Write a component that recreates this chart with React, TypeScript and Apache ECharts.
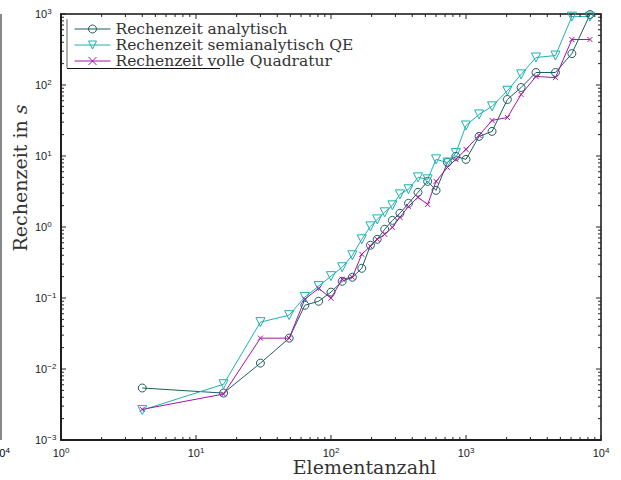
import React, { useEffect, useRef } from "react";
import * as echarts from "echarts";

// Element counts (x) and computation times in seconds (y)
const elementCount = [4, 16, 30, 49, 64, 81, 100, 121, 144, 169, 196, 220, 250, 285, 324, 375, 441, 520, 600, 729, 841, 1000, 1250, 1560, 2025, 2560, 3300, 4600, 6084, 8281];
const timeAnalytic = [0.0054, 0.00458, 0.0121, 0.0272, 0.079, 0.09, 0.121, 0.172, 0.196, 0.262, 0.553, 0.671, 0.929, 1.24, 1.56, 2.15, 3.08, 4.39, 3.28, 8.13, 9.87, 8.96, 18.9, 22.2, 62.5, 92.2, 150, 150, 277, 982];
const timeSemiQE = [0.00264, 0.0061, 0.0457, 0.0573, 0.103, 0.147, 0.203, 0.271, 0.4, 0.671, 1.02, 1.28, 1.61, 2.02, 2.88, 3.4, 5.0, 4.69, 8.96, 8.1, 11.0, 26.9, 38.5, 50, 83, 141, 244, 260, 919, 919];
const timeFullQuad = [0.0027, 0.00444, 0.0272, 0.0272, 0.0962, 0.137, 0.0993, 0.184, 0.196, 0.413, 0.535, 0.671, 0.789, 0.99, 1.37, 1.95, 2.62, 2.08, 4.39, 6.92, 8.96, 12.4, 19.5, 31.7, 34.9, 73.5, 132, 127, 437, 437];

const seriesNames = ["Rechenzeit analytisch", "Rechenzeit semianalytisch QE", "Rechenzeit volle Quadratur"];
const seriesColors = ["#1d5f5f", "#1fb0b0", "#a812a8"];

// Axis ranges as decade exponents
const xExponents = [0, 1, 2, 3, 4];
const yExponents = [-3, -2, -1, 0, 1, 2, 3];
const minorMultipliers = [2, 3, 4, 5, 6, 7, 8, 9];

const xMin = Math.pow(10, xExponents[0]);
const xMax = Math.pow(10, xExponents[xExponents.length - 1]);
const yMin = Math.pow(10, yExponents[0]);
const yMax = Math.pow(10, yExponents[yExponents.length - 1]);

const tickFont = "'Liberation Sans', Arial, sans-serif";
const serifFont = "'DejaVu Serif', serif";

const powerLabel = (v: number) => {
  const e = Math.round(Math.log10(v));
  return `{b|10}{s|${e < 0 ? "\u2212" + -e : e}}`;
};

const labelRich = {
  b: { fontFamily: tickFont, fontSize: 11, lineHeight: 14, color: "#222" },
  s: { fontFamily: tickFont, fontSize: 8, lineHeight: 6, verticalAlign: "top", color: "#222" },
};

const pairs = (ys: number[]) => elementCount.map((n, i) => [n, ys[i]]);

export default function App() {
  const ref = useRef<HTMLDivElement>(null);

  useEffect(() => {
    if (!ref.current) return;
    const chart = echarts.init(ref.current, undefined, { renderer: "svg" });

    // Major and minor log ticks on all four sides of the box
    const tickRender = (_params: any, api: any) => {
      const children: any[] = [];
      const push = (x1: number, y1: number, x2: number, y2: number) =>
        children.push({ type: "line", shape: { x1, y1, x2, y2 }, style: { stroke: "#222", lineWidth: 1 } });
      const mults = [1, ...minorMultipliers];
      xExponents.forEach((k) => {
        mults.forEach((m) => {
          const v = m * Math.pow(10, k);
          if (v > xMax * 1.0001) return;
          const len = m === 1 ? 5 : 3;
          const b = api.coord([v, yMin]);
          const t = api.coord([v, yMax]);
          push(b[0], b[1], b[0], b[1] - len);
          push(t[0], t[1], t[0], t[1] + len);
        });
      });
      yExponents.forEach((k) => {
        mults.forEach((m) => {
          const v = m * Math.pow(10, k);
          if (v > yMax * 1.0001) return;
          const len = m === 1 ? 5 : 3;
          const l = api.coord([xMin, v]);
          const r = api.coord([xMax, v]);
          push(l[0], l[1], l[0] + len, l[1]);
          push(r[0], r[1], r[0] - len, r[1]);
        });
      });
      return { type: "group", children };
    };

    const lineSeries = (name: string, color: string, ys: number[], symbol: string, size: number, extra: any = {}) => ({
      name,
      type: "line",
      data: pairs(ys),
      symbol,
      symbolSize: size,
      lineStyle: { color, width: 1 },
      itemStyle: { color: "rgba(255,255,255,0)", borderColor: color, borderWidth: 1 },
      emphasis: { disabled: true },
      z: 3,
      ...extra,
    });

    chart.setOption({
      animation: false,
      backgroundColor: "#fff",
      grid: { left: 61, right: 20, top: 14, bottom: 40, show: true, borderColor: "#111", borderWidth: 1.5 },
      xAxis: {
        type: "log",
        logBase: 10,
        min: xMin,
        max: xMax,
        splitNumber: xExponents.length - 1,
        axisLine: { show: true, lineStyle: { color: "#111", width: 1.5 } },
        axisTick: { show: false },
        splitLine: { show: false },
        axisLabel: { margin: 6, formatter: powerLabel, rich: labelRich },
      },
      yAxis: {
        type: "log",
        logBase: 10,
        min: yMin,
        max: yMax,
        splitNumber: yExponents.length - 1,
        axisLine: { show: true, lineStyle: { color: "#111", width: 1.5 } },
        axisTick: { show: false },
        splitLine: { show: false },
        axisLabel: { margin: 26, align: "left", formatter: powerLabel, rich: labelRich },
      },
      legend: {
        orient: "vertical",
        left: 74,
        top: 21,
        padding: 0,
        itemGap: 0,
        itemWidth: 36,
        itemHeight: 10,
        data: seriesNames,
        lineStyle: { width: 1 },
        itemStyle: { borderWidth: 1 },
        textStyle: { fontFamily: serifFont, fontSize: 15.5, lineHeight: 15, color: "#333" },
      },
      series: [
        lineSeries(seriesNames[0], seriesColors[0], timeAnalytic, "circle", 8),
        lineSeries(seriesNames[1], seriesColors[1], timeSemiQE, "triangle", 9, { symbolRotate: 180 }),
        {
          ...lineSeries(seriesNames[2], seriesColors[2], timeFullQuad, "path://M0,0L10,10M10,0L0,10", 5),
          itemStyle: { color: seriesColors[2], borderColor: seriesColors[2], borderWidth: 1 },
        },
        {
          type: "custom",
          silent: true,
          clip: false,
          z: 5,
          renderItem: tickRender,
          data: [[xMin, yMin]],
        },
      ],
      graphic: [
        // legend frame edges
        { type: "line", shape: { x1: 67, y1: 19, x2: 67, y2: 68 }, style: { stroke: "#999", lineWidth: 1.5 } },
        { type: "line", shape: { x1: 67, y1: 68.5, x2: 220, y2: 68.5 }, style: { stroke: "#111", lineWidth: 1 } },
        // edge of the neighbouring panel
        { type: "line", shape: { x1: 1, y1: 14, x2: 1, y2: 440 }, style: { stroke: "#888", lineWidth: 2 } },
        {
          type: "text",
          x: 1.5,
          y: 446,
          style: { text: "{b|10}{s|4}", align: "center", verticalAlign: "top", rich: labelRich },
        },
        // axis titles
        {
          type: "text",
          x: 364.5,
          y: 466.5,
          style: {
            text: "Elementanzahl",
            fontFamily: serifFont,
            fontSize: 19,
            lineHeight: 15,
            fill: "#333",
            align: "center",
            verticalAlign: "middle",
          },
        },
        {
          type: "text",
          x: 20,
          y: 178,
          rotation: Math.PI / 2,
          style: {
            text: "{r|Rechenzeit in }{i|s}",
            align: "center",
            verticalAlign: "middle",
            rich: {
              r: { fontFamily: serifFont, fontSize: 19, fill: "#333", color: "#333" },
              i: { fontFamily: serifFont, fontSize: 19, fontStyle: "italic", fill: "#333", color: "#333" },
            },
          },
        },
      ],
    });

    return () => chart.dispose();
  }, []);

  return <div ref={ref} style={{ position: "fixed", left: 0, top: 0, width: 621, height: 480 }} />;
}
